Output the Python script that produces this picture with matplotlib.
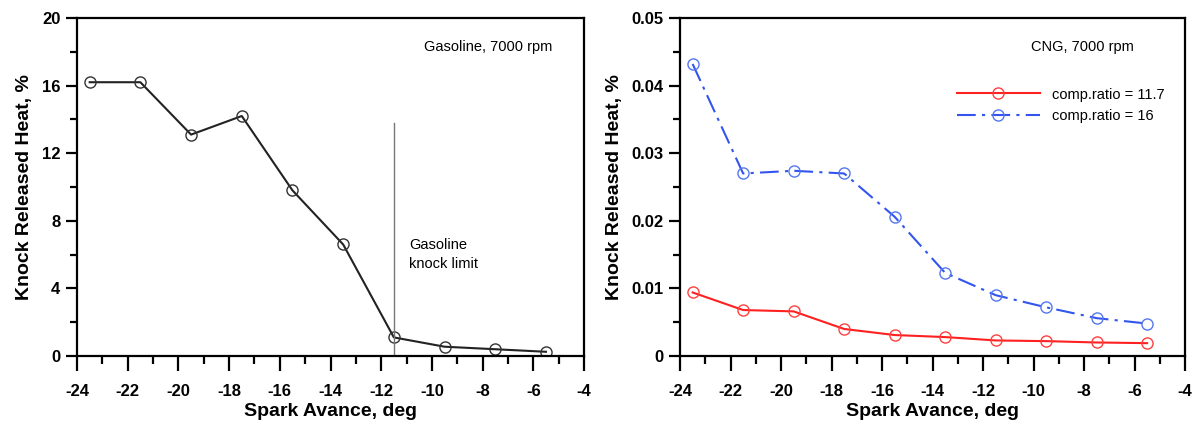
import matplotlib.pyplot as plt
from matplotlib.ticker import MultipleLocator

plt.rcParams['font.family'] = ['Liberation Sans', 'DejaVu Sans']
plt.rcParams['axes.unicode_minus'] = False

# Spark advance (deg)
spark = [-23.5, -21.5, -19.5, -17.5, -15.5, -13.5, -11.5, -9.5, -7.5, -5.5]

# Gasoline, 7000 rpm
gasoline = [16.2, 16.2, 13.1, 14.2, 9.8, 6.6, 1.1, 0.55, 0.4, 0.25]
knock_limit_x = -11.5
knock_limit_top = 13.8

# CNG, 7000 rpm
cng_117 = [0.0094, 0.0068, 0.0066, 0.0040, 0.0031, 0.0028, 0.0023, 0.0022, 0.0020, 0.0019]
cng_16 = [0.0432, 0.0270, 0.0274, 0.0270, 0.0206, 0.0123, 0.0090, 0.0072, 0.0056, 0.0048]

fig = plt.figure(figsize=(12.04, 4.25), dpi=100)
ax1 = fig.add_axes([77 / 1204, 1 - 356 / 425, 507 / 1204, 338 / 425])
ax2 = fig.add_axes([680 / 1204, 1 - 356 / 425, 505 / 1204, 338 / 425])


def style(ax, ymaj, ymin, ymax):
    ax.set_xlim(-24, -4)
    ax.set_ylim(0, ymax)
    ax.xaxis.set_major_locator(MultipleLocator(2))
    ax.xaxis.set_minor_locator(MultipleLocator(1))
    ax.yaxis.set_major_locator(MultipleLocator(ymaj))
    ax.yaxis.set_minor_locator(MultipleLocator(ymin))
    ax.tick_params(which='major', direction='out', length=11, width=1.6, labelsize=12, pad=9)
    ax.tick_params(which='minor', direction='out', length=6, width=1.6)
    ax.tick_params(axis='y', which='major', length=8, pad=4)
    ax.tick_params(axis='y', which='minor', length=5)
    for lab in ax.get_xticklabels() + ax.get_yticklabels():
        lab.set_fontweight('bold')
    for s in ax.spines.values():
        s.set_linewidth(1.6)
    ax.set_xlabel('Spark Avance, deg', fontsize=14, fontweight='bold', labelpad=3)
    ax.set_ylabel('Knock Released Heat, %', fontsize=14, fontweight='bold', labelpad=6)


ax1.plot(spark, gasoline, color='#222222', lw=1.5, marker='o', ms=8,
         mfc='none', mec='#333333', mew=1.0)
ax1.plot([knock_limit_x, knock_limit_x], [0, knock_limit_top], color='#777777', lw=1.0)
ax1.text(-10.9, 6.0, 'Gasoline\nknock limit', fontsize=10.5, va='center', ha='left',
         linespacing=1.4)
ax1.text(-10.3, 18.3, 'Gasoline, 7000 rpm', fontsize=10.5, va='center', ha='left')
style(ax1, 4, 2, 20)
ax1.set_yticks([0, 4, 8, 12, 16, 20])
ax1.set_yticklabels(['0', '4', '8', '12', '16', '20'], fontweight='bold')

ax2.plot(spark, cng_117, color='#ff2020', lw=1.5, marker='o', ms=8,
         mfc='none', mec='#ff4040', mew=1.0, label='comp.ratio = 11.7')
ax2.plot(spark, cng_16, color='#3355ee', lw=1.5, ls=(0, (9, 3, 1.5, 3)), marker='o', ms=8,
         mfc='none', mec='#5577ee', mew=1.0, label='comp.ratio = 16')
ax2.text(-10.1, 0.0457, 'CNG, 7000 rpm', fontsize=10.5, va='center', ha='left')
style(ax2, 0.01, 0.005, 0.05)
ax2.set_yticks([0, 0.01, 0.02, 0.03, 0.04, 0.05])
ax2.set_yticklabels(['0', '0.01', '0.02', '0.03', '0.04', '0.05'], fontweight='bold')
ax2.legend(loc='upper right', bbox_to_anchor=(0.985, 0.833), frameon=False, fontsize=10.5,
           handlelength=5.7, handletextpad=0.8, labelspacing=0.5)

fig.savefig('out.png', dpi=100)
